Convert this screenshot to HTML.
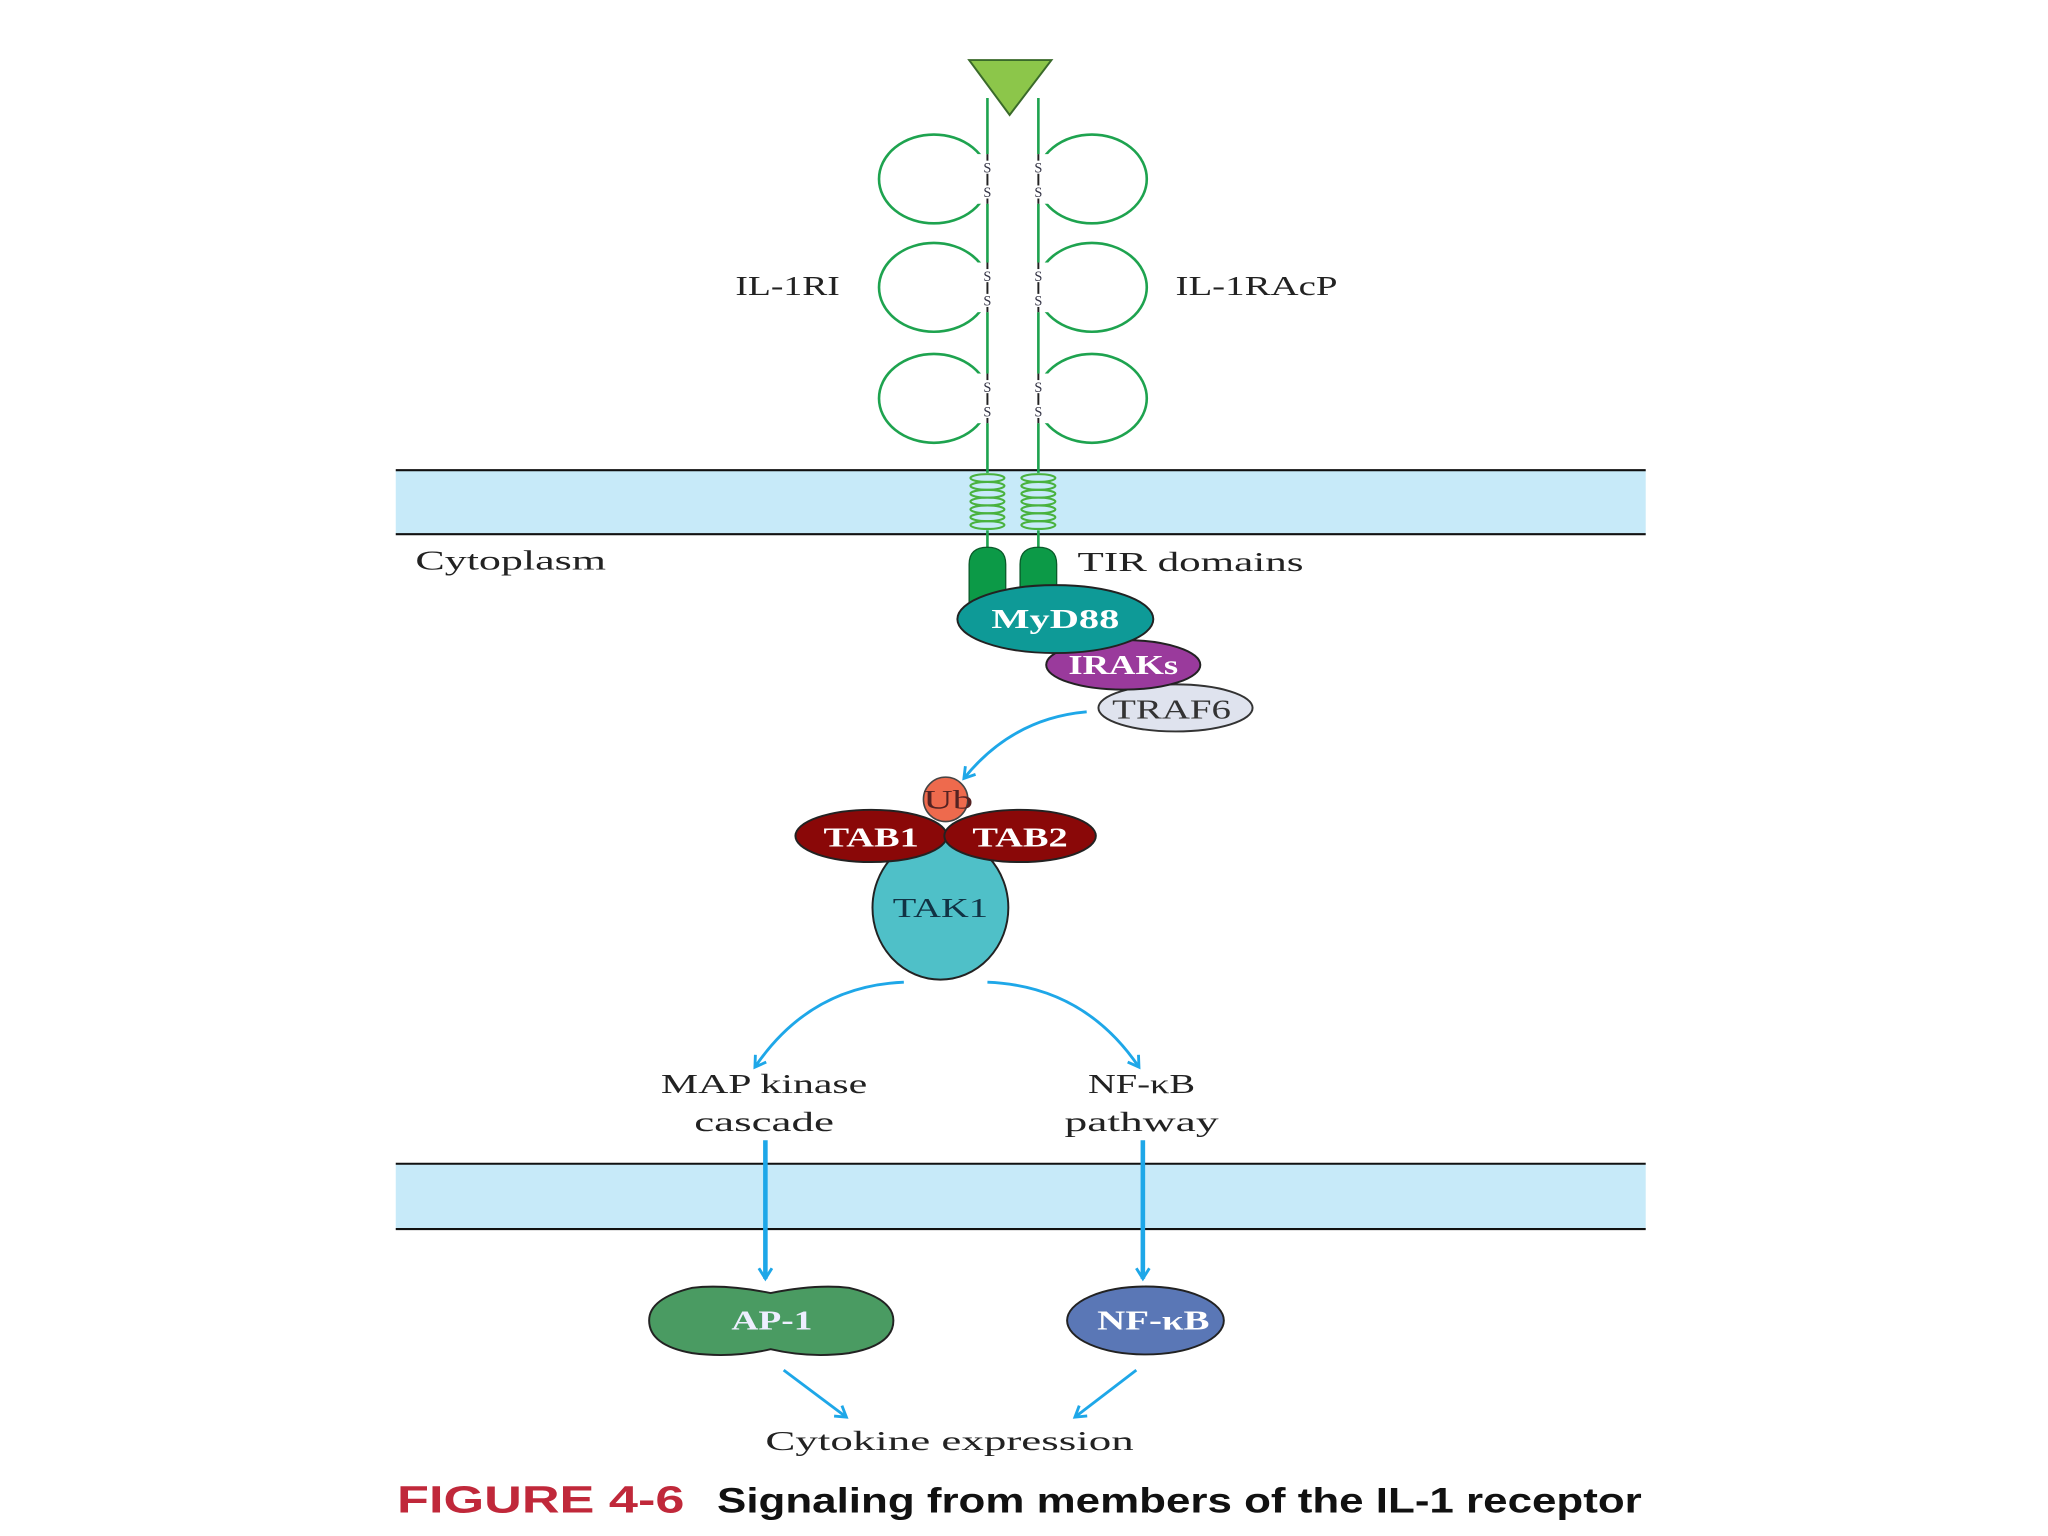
<!DOCTYPE html>
<html><head><meta charset="utf-8"><style>
html,body{margin:0;padding:0;background:#fff;}
svg{display:block;}
.s{font-family:"Liberation Serif",serif;}
.c{font-family:"Liberation Sans",sans-serif;}
</style></head><body>
<svg width="2048" height="1536" viewBox="0 0 1568 1176" xmlns="http://www.w3.org/2000/svg">
<defs>
<marker id="ah" markerWidth="12" markerHeight="12" refX="9" refY="6" orient="auto" markerUnits="userSpaceOnUse">
<path d="M1,1 L9,6 L1,11" fill="none" stroke="#1ea7e8" stroke-width="2.2"/>
</marker>
</defs>
<rect width="1568" height="1176" fill="#fff"/>
<rect x="303" y="360" width="957" height="49" fill="#c7eaf9"/>
<line x1="303" y1="360" x2="1260" y2="360" stroke="#111" stroke-width="1.6"/>
<line x1="303" y1="409" x2="1260" y2="409" stroke="#111" stroke-width="1.6"/>
<rect x="303" y="891" width="957" height="50" fill="#c7eaf9"/>
<line x1="303" y1="891" x2="1260" y2="891" stroke="#111" stroke-width="1.6"/>
<line x1="303" y1="941" x2="1260" y2="941" stroke="#111" stroke-width="1.6"/>
<g fill="none" stroke="#1ea34f" stroke-width="2">
<ellipse cx="715" cy="137" rx="42" ry="34"/><ellipse cx="836" cy="137" rx="42" ry="34"/>
<ellipse cx="715" cy="220" rx="42" ry="34"/><ellipse cx="836" cy="220" rx="42" ry="34"/>
<ellipse cx="715" cy="305" rx="42" ry="34"/><ellipse cx="836" cy="305" rx="42" ry="34"/>
</g>
<line x1="756" y1="75" x2="756" y2="362" stroke="#1ea34f" stroke-width="2"/>
<line x1="795" y1="75" x2="795" y2="362" stroke="#1ea34f" stroke-width="2"/>
<g fill="#fff">
<rect x="748" y="118" width="56" height="38"/><rect x="748" y="201" width="56" height="38"/><rect x="748" y="286" width="56" height="38"/>
</g>
<g stroke="#222" stroke-width="1.5">
<line x1="756" y1="118" x2="756" y2="156"/><line x1="795" y1="118" x2="795" y2="156"/>
<line x1="756" y1="201" x2="756" y2="239"/><line x1="795" y1="201" x2="795" y2="239"/>
<line x1="756" y1="286" x2="756" y2="324"/><line x1="795" y1="286" x2="795" y2="324"/>
</g>
<g class="s" font-size="11" fill="#334" text-anchor="middle">
<g fill="#fff"><rect x="751" y="123" width="10" height="10"/><rect x="751" y="142" width="10" height="10"/><rect x="790" y="123" width="10" height="10"/><rect x="790" y="142" width="10" height="10"/>
<rect x="751" y="206" width="10" height="10"/><rect x="751" y="225" width="10" height="10"/><rect x="790" y="206" width="10" height="10"/><rect x="790" y="225" width="10" height="10"/>
<rect x="751" y="291" width="10" height="10"/><rect x="751" y="310" width="10" height="10"/><rect x="790" y="291" width="10" height="10"/><rect x="790" y="310" width="10" height="10"/></g>
<text x="756" y="132">S</text><text x="756" y="151">S</text><text x="795" y="132">S</text><text x="795" y="151">S</text>
<text x="756" y="215">S</text><text x="756" y="234">S</text><text x="795" y="215">S</text><text x="795" y="234">S</text>
<text x="756" y="300">S</text><text x="756" y="319">S</text><text x="795" y="300">S</text><text x="795" y="319">S</text>
</g>
<polygon points="742,46 805,46 773,88" fill="#8cc64a" stroke="#3a6a2a" stroke-width="1.5"/>
<g fill="none" stroke="#49b23e" stroke-width="1.6">
<ellipse cx="756" cy="366" rx="13" ry="3"/><ellipse cx="756" cy="372" rx="13" ry="3"/><ellipse cx="756" cy="378" rx="13" ry="3"/><ellipse cx="756" cy="384" rx="13" ry="3"/><ellipse cx="756" cy="390" rx="13" ry="3"/><ellipse cx="756" cy="396" rx="13" ry="3"/><ellipse cx="756" cy="402" rx="13" ry="3"/>
<ellipse cx="795" cy="366" rx="13" ry="3"/><ellipse cx="795" cy="372" rx="13" ry="3"/><ellipse cx="795" cy="378" rx="13" ry="3"/><ellipse cx="795" cy="384" rx="13" ry="3"/><ellipse cx="795" cy="390" rx="13" ry="3"/><ellipse cx="795" cy="396" rx="13" ry="3"/><ellipse cx="795" cy="402" rx="13" ry="3"/>
</g>
<line x1="756" y1="406" x2="756" y2="422" stroke="#1ea34f" stroke-width="2"/>
<line x1="795" y1="406" x2="795" y2="422" stroke="#1ea34f" stroke-width="2"/>
<path d="M742,470 V432 Q742,419 756,419 Q770,419 770,432 V470 Z" fill="#0c9a47" stroke="#0a5a2a" stroke-width="1"/>
<path d="M781,458 V432 Q781,419 795,419 Q809,419 809,432 V458 Z" fill="#0c9a47" stroke="#0a5a2a" stroke-width="1"/>
<ellipse cx="900" cy="542" rx="59" ry="18" fill="#dfe3ee" stroke="#333" stroke-width="1.5"/>
<ellipse cx="860" cy="509" rx="59" ry="19" fill="#9a3a9c" stroke="#222" stroke-width="1.5"/>
<ellipse cx="808" cy="474" rx="75" ry="26" fill="#0e9a97" stroke="#222" stroke-width="1.5"/>
<g class="s" font-size="21" text-anchor="middle" lengthAdjust="spacingAndGlyphs">
<text x="808" y="481" fill="#fff" font-weight="bold" textLength="98" lengthAdjust="spacingAndGlyphs">MyD88</text>
<text x="860" y="516" fill="#fff" font-weight="bold" textLength="84" lengthAdjust="spacingAndGlyphs">IRAKs</text>
<text x="897" y="550" fill="#333" textLength="91" lengthAdjust="spacingAndGlyphs">TRAF6</text>
</g>
<path d="M832,545 Q775,550 738,596" fill="none" stroke="#1ea7e8" stroke-width="2.2" marker-end="url(#ah)"/>
<ellipse cx="720" cy="695" rx="52" ry="55" fill="#4fc0c8" stroke="#222" stroke-width="1.5"/>
<ellipse cx="724" cy="612" rx="17" ry="17" fill="#ee6a4d" stroke="#444" stroke-width="1.2"/>
<ellipse cx="667" cy="640" rx="58" ry="20" fill="#8a0808" stroke="#222" stroke-width="1.5"/>
<ellipse cx="781" cy="640" rx="58" ry="20" fill="#8a0808" stroke="#222" stroke-width="1.5"/>
<g class="s" font-size="21" text-anchor="middle">
<text x="726" y="619" font-size="20" fill="#522" textLength="38" lengthAdjust="spacingAndGlyphs">Ub</text>
<text x="667" y="648" font-weight="bold" fill="#fff" textLength="73" lengthAdjust="spacingAndGlyphs">TAB1</text>
<text x="781" y="648" font-weight="bold" fill="#fff" textLength="73" lengthAdjust="spacingAndGlyphs">TAB2</text>
<text x="720" y="702" fill="#134" textLength="73" lengthAdjust="spacingAndGlyphs">TAK1</text>
</g>
<path d="M692,752 Q620,755 578,817" fill="none" stroke="#1ea7e8" stroke-width="2.2" marker-end="url(#ah)"/>
<path d="M756,752 Q830,755 872,817" fill="none" stroke="#1ea7e8" stroke-width="2.2" marker-end="url(#ah)"/>
<g class="s" font-size="21" fill="#222" text-anchor="middle">
<text x="585" y="837" textLength="158" lengthAdjust="spacingAndGlyphs">MAP kinase</text>
<text x="585" y="866" textLength="107" lengthAdjust="spacingAndGlyphs">cascade</text>
<text x="874" y="837" textLength="82" lengthAdjust="spacingAndGlyphs">NF-κB</text>
<text x="874" y="866" textLength="118" lengthAdjust="spacingAndGlyphs">pathway</text>
<text x="727" y="1110" textLength="282" lengthAdjust="spacingAndGlyphs">Cytokine expression</text>
<text x="603" y="226" textLength="80" lengthAdjust="spacingAndGlyphs">IL-1RI</text>
<text x="962" y="226" textLength="124" lengthAdjust="spacingAndGlyphs">IL-1RAcP</text>
</g>
<text class="s" x="318" y="436" font-size="21" fill="#222" textLength="146" lengthAdjust="spacingAndGlyphs">Cytoplasm</text>
<text class="s" x="825" y="437" font-size="21" fill="#222" textLength="173" lengthAdjust="spacingAndGlyphs">TIR domains</text>
<line x1="586" y1="873" x2="586" y2="979" stroke="#1ea7e8" stroke-width="3.5" marker-end="url(#ah)"/>
<line x1="875" y1="873" x2="875" y2="979" stroke="#1ea7e8" stroke-width="3.5" marker-end="url(#ah)"/>
<path d="M590,990 Q555,983 530,986 Q497,994 497,1011 Q497,1030 530,1036 Q560,1040 590,1033 Q620,1040 650,1036 Q684,1030 684,1011 Q684,994 650,986 Q625,983 590,990 Z" fill="#4a9b62" stroke="#222" stroke-width="1.5"/>
<text class="s" x="591" y="1018" font-size="21" font-weight="bold" fill="#eef" text-anchor="middle" textLength="62" lengthAdjust="spacingAndGlyphs">AP-1</text>
<ellipse cx="877" cy="1011" rx="60" ry="26" fill="#5a77b6" stroke="#222" stroke-width="1.5"/>
<text class="s" x="883" y="1018" font-size="21" font-weight="bold" fill="#fff" text-anchor="middle" textLength="86" lengthAdjust="spacingAndGlyphs">NF-κB</text>
<line x1="600" y1="1049" x2="648" y2="1085" stroke="#1ea7e8" stroke-width="2.2" marker-end="url(#ah)"/>
<line x1="870" y1="1049" x2="823" y2="1085" stroke="#1ea7e8" stroke-width="2.2" marker-end="url(#ah)"/>
<text class="c" x="304" y="1158" font-size="29" font-weight="bold" fill="#c0283a" textLength="220" lengthAdjust="spacingAndGlyphs">FIGURE 4-6</text>
<text class="c" x="549" y="1158" font-size="27" font-weight="bold" fill="#111" textLength="708" lengthAdjust="spacingAndGlyphs">Signaling from members of the IL-1 receptor</text>
</svg>
</body></html>
